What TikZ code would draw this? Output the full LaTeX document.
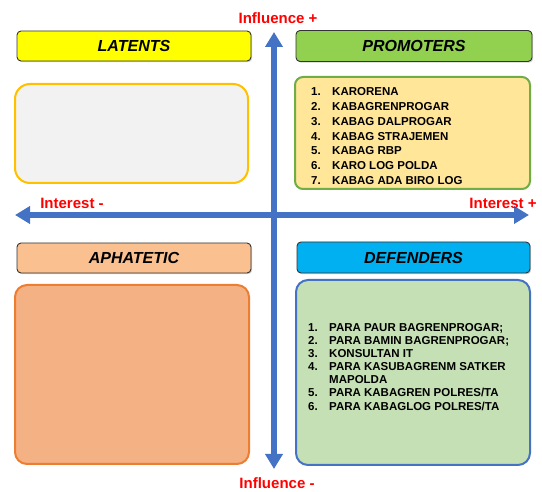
\documentclass[tikz,border=0pt]{standalone}
\usepackage{fontspec}
\setmainfont{Liberation Sans}
\usetikzlibrary{arrows.meta,shadows}

\definecolor{axisblue}{HTML}{4472C4}
\definecolor{hdyellow}{HTML}{FFFF00}
\definecolor{hdgreen}{HTML}{92D050}
\definecolor{hdpeach}{HTML}{FAC090}
\definecolor{hdcyan}{HTML}{00B0F0}
\definecolor{latfill}{HTML}{F2F2F2}
\definecolor{latline}{HTML}{FFC000}
\definecolor{profill}{HTML}{FFE699}
\definecolor{proline}{HTML}{70AD47}
\definecolor{aphfill}{HTML}{F4B183}
\definecolor{aphline}{HTML}{ED7D31}
\definecolor{deffill}{HTML}{C5E0B4}

\tikzset{
  header/.style={draw=black!80, line width=0.9pt, rounded corners=4pt,
    minimum width=234pt, minimum height=30pt, inner sep=0pt,
    font=\fontsize{16}{18}\selectfont\bfseries\itshape,
    drop shadow={opacity=0.35, shadow xshift=1.2pt, shadow yshift=-1.2pt}},
  panel/.style={line width=2pt, rounded corners=12pt, inner sep=0pt},
  axislabel/.style={text=red, inner sep=0pt, font=\fontsize{15}{17}\selectfont\bfseries},
  item/.style={anchor=base west, inner sep=0pt, font=\fontsize{11.5}{13}\selectfont\bfseries},
  axis/.style={axisblue, line width=5.5pt,
    {Triangle[width=17pt,length=15pt]}-{Triangle[width=17pt,length=15pt]}},
}

\begin{document}
\begin{tikzpicture}[x=1pt, y=-1pt]
    \useasboundingbox (0,0) rectangle (542,492);

    % Axes
    \coordinate (top) at (274,32);
    \coordinate (bottom) at (274,469);
    \coordinate (left) at (15,215);
    \coordinate (right) at (529,215);
    \draw[axis] (bottom) -- (top);
    \draw[axis] (left) -- (right);
    \node[axislabel] (infplus) at (278,18) {Influence +};
    \node[axislabel] (infminus) at (277,483) {Influence -};
    \node[axislabel] (intminus) at (72,203) {Interest -};
    \node[axislabel] (intplus) at (503,203) {Interest +};

    % Latents
    \node[header, fill=hdyellow] (latents) at (134,46) {LATENTS};
    \node[panel, draw=latline, fill=latfill, rounded corners=15pt,
      minimum width=233pt, minimum height=99pt] (latentsbox) at (131.5,133.5) {};

    % Promoters
    \node[header, fill=hdgreen, minimum width=236pt, minimum height=31pt] (promoters) at (414,46) {PROMOTERS};
    \node[panel, draw=proline, fill=profill, rounded corners=8pt,
      minimum width=235pt, minimum height=112pt] (promotersbox) at (412.5,133) {};
    \foreach \n/\t [count=\i] in {1./KARORENA, 2./KABAGRENPROGAR, 3./KABAG DALPROGAR,
        4./KABAG STRAJEMEN, 5./KABAG RBP, 6./KARO LOG POLDA, 7./KABAG ADA BIRO LOG}
      \node[item] (pro\i) at (311,{96+14.7*(\i-1)}) {\makebox[21pt][l]{\n}\t};

    % Aphatetic
    \node[header, fill=hdpeach] (aphatetic) at (134,258) {APHATETIC};
    \node[panel, draw=aphline, fill=aphfill,
      minimum width=234pt, minimum height=179pt] (aphateticbox) at (132,374.5) {};

    % Defenders
    \node[header, fill=hdcyan, minimum width=233pt, minimum height=31pt] (defenders) at (413.5,257.5) {DEFENDERS};
    \node[panel, draw=axisblue, fill=deffill,
      minimum width=234pt, minimum height=185pt] (defendersbox) at (413,372.5) {};
    \foreach \n/\t [count=\i] in {1./{PARA PAUR BAGRENPROGAR;}, 2./{PARA BAMIN BAGRENPROGAR;},
        3./{KONSULTAN IT}, 4./{PARA KASUBAGRENM SATKER}, /{MAPOLDA},
        5./{PARA KABAGREN POLRES/TA}, 6./{PARA KABAGLOG POLRES/TA}}
      \node[item] (def\i) at (308,{332+13*(\i-1)}) {\makebox[21pt][l]{\n}\t};
\end{tikzpicture}
\end{document}
